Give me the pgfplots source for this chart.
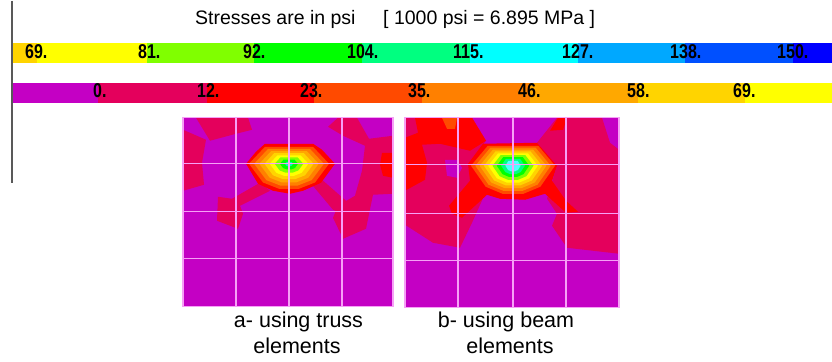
\documentclass[border=0pt]{standalone}
\usepackage{pgfplots}
\pgfplotsset{compat=1.18}
\usepackage{fontspec}
\setmainfont{Liberation Sans}
\definecolor{mag}{RGB}{196,0,196}
\definecolor{crim}{RGB}{228,0,92}
\definecolor{cred}{RGB}{255,0,0}
\definecolor{ored}{RGB}{255,74,0}
\definecolor{orng}{RGB}{255,128,0}
\definecolor{amber}{RGB}{255,168,0}
\definecolor{gold}{RGB}{255,212,0}
\definecolor{yel}{RGB}{255,255,0}
\definecolor{chart}{RGB}{128,255,0}
\definecolor{grn}{RGB}{0,255,0}
\definecolor{spring}{RGB}{0,255,128}
\definecolor{cyn}{RGB}{0,255,255}
\definecolor{azure}{RGB}{0,168,255}
\definecolor{blueb}{RGB}{0,80,255}
\definecolor{bluec}{RGB}{0,0,255}
\definecolor{gridpink}{RGB}{246,160,246}
\newcommand\lbl[1]{\scalebox{0.8}[1]{\fontsize{20}{20}\selectfont\bfseries #1}}
\begin{document}
\begin{tikzpicture}
\begin{axis}[
  scale only axis, width=832pt, height=361pt,
  xmin=0, xmax=832, ymin=0, ymax=361, y dir=reverse,
  hide axis, clip=false,
  every axis plot/.append style={draw=none}
]
% background
\addplot[fill=white] coordinates {(0,0)(832,0)(832,361)(0,361)} -- cycle;
% ---------- top colour bar ----------
\addplot[fill=gold]   coordinates {(12,42)(37,42)(37,62)(12,62)} -- cycle;
\addplot[fill=yel]    coordinates {(37,42)(147,42)(147,62)(37,62)} -- cycle;
\addplot[fill=chart]  coordinates {(147,42)(254,42)(254,62)(147,62)} -- cycle;
\addplot[fill=grn]    coordinates {(254,42)(362,42)(362,62)(254,62)} -- cycle;
\addplot[fill=spring] coordinates {(362,42)(470,42)(470,62)(362,62)} -- cycle;
\addplot[fill=cyn]    coordinates {(470,42)(578,42)(578,62)(470,62)} -- cycle;
\addplot[fill=azure]  coordinates {(578,42)(685,42)(685,62)(578,62)} -- cycle;
\addplot[fill=blueb]  coordinates {(685,42)(793,42)(793,62)(685,62)} -- cycle;
\addplot[fill=bluec]  coordinates {(793,42)(832,42)(832,62)(793,62)} -- cycle;
% ---------- bottom colour bar ----------
\addplot[fill=mag]   coordinates {(12,82)(98,82)(98,102)(12,102)} -- cycle;
\addplot[fill=crim]  coordinates {(98,82)(207,82)(207,102)(98,102)} -- cycle;
\addplot[fill=cred]  coordinates {(207,82)(314,82)(314,102)(207,102)} -- cycle;
\addplot[fill=ored]  coordinates {(314,82)(422,82)(422,102)(314,102)} -- cycle;
\addplot[fill=orng]  coordinates {(422,82)(530,82)(530,102)(422,102)} -- cycle;
\addplot[fill=amber] coordinates {(530,82)(638,82)(638,102)(530,102)} -- cycle;
\addplot[fill=gold]  coordinates {(638,82)(745,82)(745,102)(638,102)} -- cycle;
\addplot[fill=yel]   coordinates {(745,82)(832,82)(832,102)(745,102)} -- cycle;
% left rule
\addplot[draw=black!65, line width=1.5pt] coordinates {(12,0)(12,182)};
% ================= panel a =================
\addplot[fill=mag] coordinates {(183,117)(393,117)(393,306)(183,306)} -- cycle;
\addplot[fill=crim] coordinates {(196,117)(248,117)(252,129)(236,133)(210,140)} -- cycle;
\addplot[fill=crim] coordinates {(183,129)(206,139)(202,162)(204,184)(183,190)} -- cycle;
\addplot[fill=crim] coordinates {(260,182)(270,190)(240,205)(243,213)(238,228)(217,220)(218,196)(232,198)} -- cycle;
\addplot[fill=crim] coordinates {(328,126)(338,117)(357,117)(369,138)(393,135)(393,193)(373,194)(366,228)(343,238)(333,217)(338,205)(355,195)(362,170)(365,145)(343,135)} -- cycle;
\addplot[fill=crim] coordinates {(312,184)(322,179)(346,200)(340,212)(333,209)} -- cycle;
\addplot[fill=cred] coordinates {(246,163)(256,151)(265,143)(313,143)(322,149)(335,163)(321,182)(303,190)(290,193)(273,190)(258,183)} -- cycle;
\addplot[fill=cred] coordinates {(382,152)(393,152)(393,177)(383,175)(380,164)} -- cycle;
\addplot[fill=ored] coordinates {(249,163)(265,146)(313,146)(329,163)(315,181.75)(299,188)(279,188)(263,181.75)} -- cycle;
\addplot[fill=orng] coordinates {(254.1,163)(268.1,148.1)(309.9,148.1)(323.9,163)(311.7,179.35)(297.7,184.8)(280.3,184.8)(266.3,179.35)} -- cycle;
\addplot[fill=amber] coordinates {(259.3,163)(271.2,150.3)(306.8,150.3)(318.7,163)(308.3,176.95)(296.4,181.6)(281.6,181.6)(269.7,176.95)} -- cycle;
\addplot[fill=gold] coordinates {(264.4,163)(274.2,152.4)(303.8,152.4)(313.6,163)(305,174.55)(295.15,178.4)(282.85,178.4)(273,174.55)} -- cycle;
\addplot[fill=yel] coordinates {(269.6,163)(277.4,154.6)(300.6,154.6)(308.4,163)(301.6,172.1)(293.85,175.1)(284.15,175.1)(276.4,172.1)} -- cycle;
\addplot[fill=chart] coordinates {(274.7,163)(280.4,156.7)(297.6,156.7)(303.3,163)(298.3,169.7)(292.6,171.9)(285.4,171.9)(279.7,169.7)} -- cycle;
\addplot[fill=grn] coordinates {(279.9,163)(283.5,158.9)(294.5,158.9)(298.1,163)(294.9,167.3)(291.3,168.7)(286.7,168.7)(283.1,167.3)} -- cycle;
\addplot[fill=spring!60!cyn] coordinates {(285,163)(287,161)(291,161)(293,163)(291.6,164.9)(290,165.5)(288,165.5)(286.4,164.9)} -- cycle;
% grid a
\addplot[draw=gridpink, line width=1.3pt] coordinates {(183,117)(393,117)(393,306)(183,306)} -- cycle;
\addplot[draw=gridpink, line width=1.3pt] coordinates {(236,117)(236,306)};
\addplot[draw=gridpink, line width=1.3pt] coordinates {(289,117)(289,306)};
\addplot[draw=gridpink, line width=1.3pt] coordinates {(342,117)(342,306)};
\addplot[draw=gridpink, line width=1.3pt] coordinates {(183,163)(393,163)};
\addplot[draw=gridpink, line width=1.3pt] coordinates {(183,211)(393,211)};
\addplot[draw=gridpink, line width=1.3pt] coordinates {(183,258)(393,258)};
% ================= panel b =================
\addplot[fill=mag] coordinates {(405,117)(619,117)(619,307)(405,307)} -- cycle;
\addplot[fill=crim] coordinates {(405,117)(472,117)(486,140)(468,163)(485,193)(472,222)(460,247)(433,242)(405,224)} -- cycle;
\addplot[fill=crim] coordinates {(557,117)(602,117)(610,142)(619,149)(619,253)(567,247)(552,225)(557,213)(547,198)(557,165)(537,142)} -- cycle;
\addplot[fill=cred] coordinates {(415,117)(472,117)(486,140)(470,150)(440,143)(422,144)(427,162)(425,179)(405,190)(405,137)(418,132)} -- cycle;
\addplot[fill=cred] coordinates {(468,163)(483,143)(537,142)(557,165)(552,180)(566,200)(578,211)(566,212)(545,193)(525,199)(500,198)(487,194)(462,217)(452,213)(449,205)(470,180)} -- cycle;
\addplot[fill=cred] coordinates {(550,130)(558,117)(567,117)(563,129)} -- cycle;
\addplot[fill=ored] coordinates {(442,117)(457,117)(455,128)(447,128)} -- cycle;
\addplot[fill=mag] coordinates {(445,159)(457,159)(462,167)(457,177)(447,175)} -- cycle;
\addplot[fill=ored] coordinates {(471,165)(487.8,145)(538.2,145)(555,165)(540.3,186)(523.5,193)(502.5,193)(485.7,186)} -- cycle;
\addplot[fill=orng] coordinates {(475.3,165)(490.4,146.9)(535.6,146.9)(550.7,165)(537.5,183.9)(522.4,190.2)(503.6,190.2)(488.5,183.9)} -- cycle;
\addplot[fill=amber] coordinates {(479.6,165)(493,148.75)(533,148.75)(546.4,165)(534.7,181.8)(521.35,187.4)(504.65,187.4)(491.3,181.8)} -- cycle;
\addplot[fill=gold] coordinates {(483.9,165)(495.5,150.6)(530.5,150.6)(542.1,165)(531.9,179.7)(520.3,184.6)(505.7,184.6)(494.1,179.7)} -- cycle;
\addplot[fill=yel] coordinates {(488.2,165)(498.1,152.5)(527.9,152.5)(537.8,165)(529.1,177.6)(519.2,181.8)(506.8,181.8)(496.9,177.6)} -- cycle;
\addplot[fill=chart] coordinates {(492.5,165)(500.7,154.4)(525.3,154.4)(533.5,165)(526.3,175.5)(518.1,179)(507.9,179)(499.7,175.5)} -- cycle;
\addplot[fill=grn] coordinates {(496.8,165)(503.3,156.25)(522.7,156.25)(529.2,165)(523.5,173.4)(517,176.2)(509,176.2)(502.5,173.4)} -- cycle;
\addplot[fill=spring] coordinates {(501.1,165)(505.9,158.1)(520.1,158.1)(524.9,165)(520.7,171.3)(516,173.4)(510,173.4)(505.3,171.3)} -- cycle;
\addplot[fill=cyn!70!white] coordinates {(505.4,165)(508.4,160)(517.6,160)(520.6,165)(517.9,169.2)(514.9,170.6)(511.1,170.6)(508.1,169.2)} -- cycle;
% grid b
\addplot[draw=gridpink, line width=1.3pt] coordinates {(405,117)(619,117)(619,307)(405,307)} -- cycle;
\addplot[draw=gridpink, line width=1.3pt] coordinates {(458,117)(458,307)};
\addplot[draw=gridpink, line width=1.3pt] coordinates {(513,117)(513,307)};
\addplot[draw=gridpink, line width=1.3pt] coordinates {(566,117)(566,307)};
\addplot[draw=gridpink, line width=1.3pt] coordinates {(405,164)(619,164)};
\addplot[draw=gridpink, line width=1.3pt] coordinates {(405,213)(619,213)};
\addplot[draw=gridpink, line width=1.3pt] coordinates {(405,260)(619,260)};
% ---------- texts ----------
\node[anchor=base west, inner sep=0pt] at (axis cs:195,24) {\fontsize{19.5}{20}\selectfont Stresses are in psi};
\node[anchor=base west, inner sep=0pt] at (axis cs:383,24) {\fontsize{19.5}{20}\selectfont [ 1000 psi = 6.895 MPa ]};
% top bar labels
\node[anchor=base west, inner sep=0pt] at (axis cs:25,58) {\lbl{69.}};
\node[anchor=base west, inner sep=0pt] at (axis cs:138,58) {\lbl{81.}};
\node[anchor=base west, inner sep=0pt] at (axis cs:243,58) {\lbl{92.}};
\node[anchor=base west, inner sep=0pt] at (axis cs:347,58) {\lbl{104.}};
\node[anchor=base west, inner sep=0pt] at (axis cs:453,58) {\lbl{115.}};
\node[anchor=base west, inner sep=0pt] at (axis cs:562,58) {\lbl{127.}};
\node[anchor=base west, inner sep=0pt] at (axis cs:670,58) {\lbl{138.}};
\node[anchor=base west, inner sep=0pt] at (axis cs:777,58) {\lbl{150.}};
% bottom bar labels
\node[anchor=base west, inner sep=0pt] at (axis cs:93,97) {\lbl{0.}};
\node[anchor=base west, inner sep=0pt] at (axis cs:197,97) {\lbl{12.}};
\node[anchor=base west, inner sep=0pt] at (axis cs:300,97) {\lbl{23.}};
\node[anchor=base west, inner sep=0pt] at (axis cs:408,97) {\lbl{35.}};
\node[anchor=base west, inner sep=0pt] at (axis cs:518,97) {\lbl{46.}};
\node[anchor=base west, inner sep=0pt] at (axis cs:627,97) {\lbl{58.}};
\node[anchor=base west, inner sep=0pt] at (axis cs:733,97) {\lbl{69.}};
% captions
\node[anchor=base, inner sep=0pt] at (axis cs:298.5,327) {\fontsize{21.5}{22}\selectfont a- using truss};
\node[anchor=base, inner sep=0pt] at (axis cs:297,353) {\fontsize{21.5}{22}\selectfont elements};
\node[anchor=base, inner sep=0pt] at (axis cs:506,327) {\fontsize{21.5}{22}\selectfont b- using beam};
\node[anchor=base, inner sep=0pt] at (axis cs:510,353) {\fontsize{21.5}{22}\selectfont elements};
\end{axis}
\end{tikzpicture}
\end{document}
